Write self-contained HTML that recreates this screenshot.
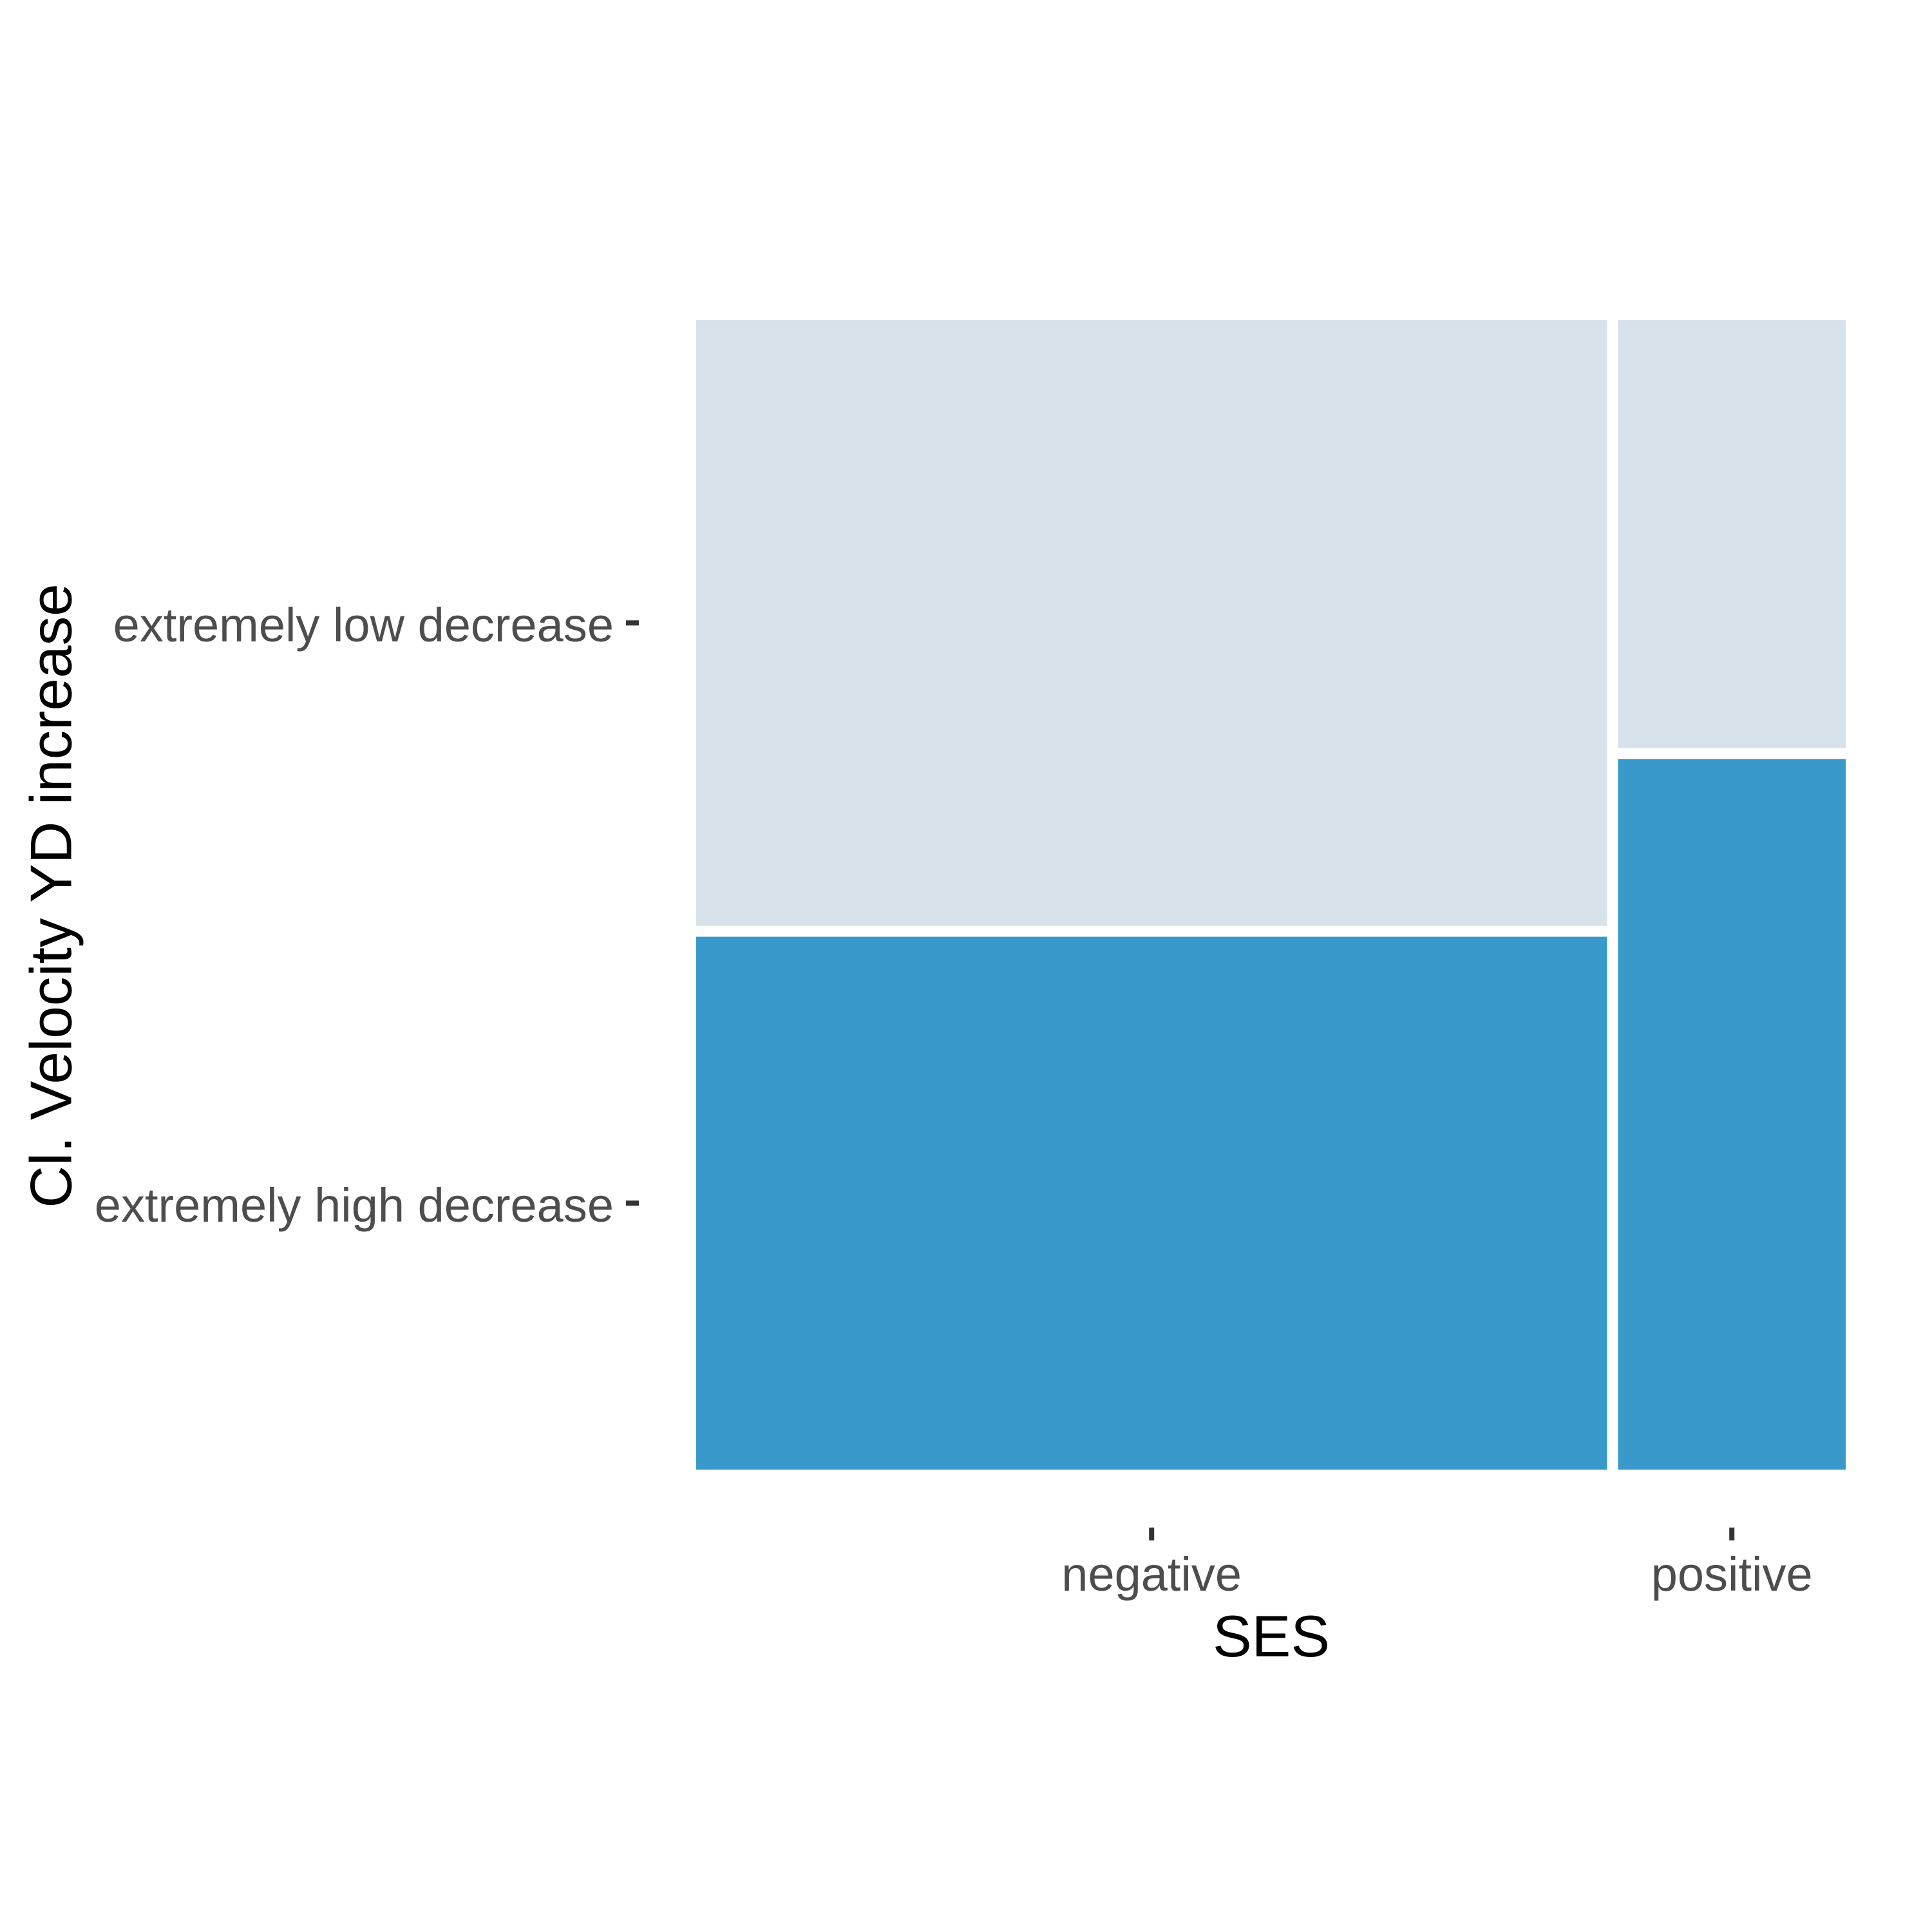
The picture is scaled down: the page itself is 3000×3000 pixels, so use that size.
<!DOCTYPE html>
<html><head><meta charset="utf-8"><style>
html,body{margin:0;padding:0;background:#fff;}
svg{display:block;}
text{font-family:"Liberation Sans",Arial,sans-serif;}
</style></head><body>
<svg id="chart" width="3000" height="3000" viewBox="0 0 3000 3000" xmlns="http://www.w3.org/2000/svg">
<rect width="3000" height="3000" fill="#fff"/>
<g id="plot"></g>
<text x="80" y="1391" font-size="91" fill="#000" text-anchor="middle" dominant-baseline="central" transform="rotate(-90 80 1391)">Cl. Velocity YD increase</text>
<text x="1974" y="2572" font-size="91" fill="#000" text-anchor="middle">SES</text>
</svg>
<script>
const categories = ["negative", "positive"];
const colShares = [0.80, 0.20];
const levels = ["extremely high decrease", "extremely low decrease"];
const highShare = [0.468, 0.624];

const svg = document.getElementById('plot');
const NS = "http://www.w3.org/2000/svg";
const X0 = 1081, X1 = 2866, Y0 = 497, Y1 = 2282, GAP = 17;
const colors = ["#3a99cb", "#d7e2ea"];
function xScale(f){ return X0 + f * (X1 - X0 - GAP * (categories.length - 1)); }
function yScale(f){ return Y1 - f * (Y1 - Y0 - GAP); }

let cum = 0;
categories.forEach((c, i) => {
  const xa = xScale(cum) + GAP * i;
  const w = xScale(cum + colShares[i]) - xScale(cum);
  cum += colShares[i];
  const hb = Y1 - yScale(highShare[i]);
  const blue = document.createElementNS(NS, 'rect');
  blue.setAttribute('x', xa); blue.setAttribute('y', Y1 - hb);
  blue.setAttribute('width', w); blue.setAttribute('height', hb);
  blue.setAttribute('fill', colors[0]);
  
  
  svg.appendChild(blue);
  const light = document.createElementNS(NS, 'rect');
  light.setAttribute('x', xa); light.setAttribute('y', Y0);
  light.setAttribute('width', w); light.setAttribute('height', Y1 - hb - GAP - Y0);
  light.setAttribute('fill', colors[1]);
  
  
  svg.appendChild(light);
  const cx = xa + w / 2;
  const tick = document.createElementNS(NS, 'rect');
  tick.setAttribute('x', cx - 4); tick.setAttribute('y', 2372);
  tick.setAttribute('width', 8); tick.setAttribute('height', 20);
  tick.setAttribute('fill', '#333');
  
  
  svg.appendChild(tick);
  const t = document.createElementNS(NS, 'text');
  t.setAttribute('x', cx); t.setAttribute('y', 2470);
  t.setAttribute('font-size', '74'); t.setAttribute('fill', '#4d4d4d');
  t.setAttribute('text-anchor', 'middle');
  
  
  t.textContent = c;
  svg.appendChild(t);
});

const hb0 = Y1 - yScale(highShare[0]);
const yCenters = [Y1 - hb0 / 2, (Y0 + Y1 - hb0 - GAP) / 2];
levels.forEach((l, i) => {
  const y = yCenters[i];
  const tick = document.createElementNS(NS, 'rect');
  tick.setAttribute('x', 972); tick.setAttribute('y', y - 4);
  tick.setAttribute('width', 20); tick.setAttribute('height', 8);
  tick.setAttribute('fill', '#333');
  
  
  svg.appendChild(tick);
  const t = document.createElementNS(NS, 'text');
  t.setAttribute('x', 953); t.setAttribute('y', y + 3);
  t.setAttribute('font-size', '74'); t.setAttribute('fill', '#4d4d4d');
  t.setAttribute('text-anchor', 'end'); t.setAttribute('dominant-baseline', 'central');
  
  
  t.textContent = l;
  svg.appendChild(t);
});
</script>
</body></html>
